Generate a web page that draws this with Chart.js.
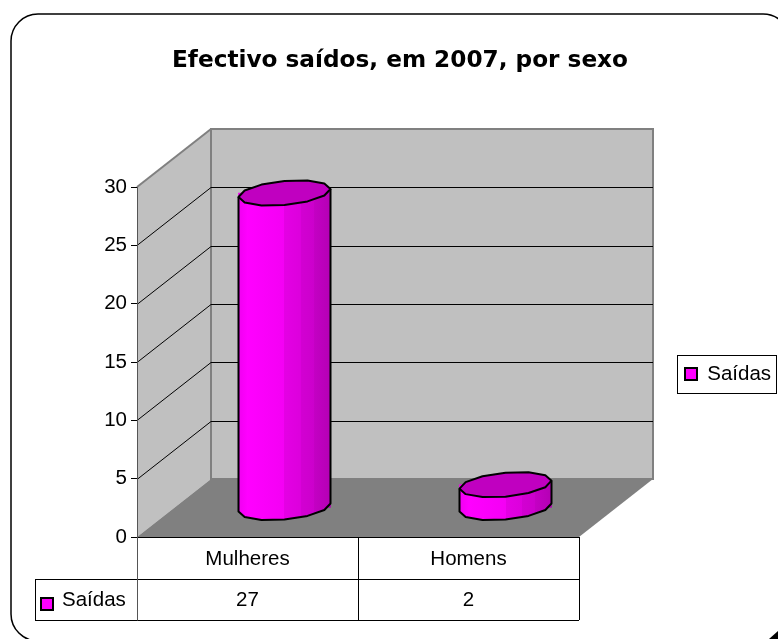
<!DOCTYPE html>
<html><head><meta charset="utf-8">
<style>html,body{margin:0;padding:0;background:#fff}canvas{display:block}</style>
<script src="https://cdn.jsdelivr.net/npm/chart.js@4"></script>
</head><body><canvas id="c" width="778" height="639"></canvas>
<script>
const categories = ['Mulheres', 'Homens'];
const seriesName = 'Saídas';
const saidas = [27, 2];
const yTicks = [0, 5, 10, 15, 20, 25, 30];
const titleText = 'Efectivo saídos, em 2007, por sexo';

const FONT = '"Liberation Sans", Arial, sans-serif';
const DX = 74, DY = -58;
const BAR_W = 92, RY = 12, TILT = 4;
const MAG = '#FF00FF', TOP_COLOR = '#C000C0';

function bodyGradient(ctx2d, cx) {
  const l = cx - BAR_W / 2, g = ctx2d.createLinearGradient(l, 0, l + BAR_W, 0);
  const stops = [[0,'#F000F0'],[0.1,'#FF00FF'],[0.5,'#F400F4'],[0.5,'#E400E4'],[0.68,'#DC00DC'],[0.68,'#D200D2'],[0.82,'#CC00CC'],[0.82,'#C400C4'],[1,'#B400B4']];
  stops.forEach(s => g.addColorStop(s[0], s[1]));
  return g;
}
function ringPoint(cx, cy, t) {
  return [cx + BAR_W / 2 * Math.cos(t), cy - TILT * Math.cos(t) - RY * Math.sin(t)];
}
function poly(ctx, pts) {
  ctx.beginPath();
  pts.forEach((p, i) => i ? ctx.lineTo(p[0], p[1]) : ctx.moveTo(p[0], p[1]));
}

const scene = {
  id: 'scene',
  afterLayout(chart) {
    const lg = chart.legend;
    lg.left = 677; lg.right = 777; lg.top = 355; lg.bottom = 393;
    const tt = chart.titleBlock;
    tt.left = 22; tt.right = 778; tt.width = 756;
  },
  beforeDatasetsDraw(chart) {
    const { ctx, scales: { x, y } } = chart;
    const a = chart.chartArea;
    ctx.save();
    // frame (runs off the right and bottom of the page)
    ctx.strokeStyle = '#000'; ctx.lineWidth = 1.5;
    ctx.beginPath(); ctx.roundRect(11, 14, 779, 627, 27); ctx.stroke();
    ctx.fillStyle = '#000';
    poly(ctx, [[769, 639], [778, 631], [778, 639]]); ctx.closePath(); ctx.fill();
    // walls + floor
    ctx.lineWidth = 2; ctx.strokeStyle = '#808080';
    ctx.fillStyle = '#C0C0C0';
    poly(ctx, [[a.left, a.top], [a.left + DX, a.top + DY], [a.left + DX, a.bottom + DY], [a.left, a.bottom]]);
    ctx.closePath(); ctx.fill();
    ctx.beginPath(); ctx.moveTo(a.left, a.top); ctx.lineTo(a.left + DX, a.top + DY); ctx.stroke();
    ctx.beginPath(); ctx.rect(a.left + DX, a.top + DY, a.right - a.left, a.bottom - a.top); ctx.fill(); ctx.stroke();
    ctx.fillStyle = '#808080';
    poly(ctx, [[a.left, a.bottom], [a.right, a.bottom], [a.right + DX, a.bottom + DY], [a.left + DX, a.bottom + DY]]);
    ctx.closePath(); ctx.fill();
    // gridlines
    ctx.strokeStyle = '#000'; ctx.lineWidth = 1;
    yTicks.forEach(v => {
      if (v === 0 || v === 30) return;
      const py = Math.round(y.getPixelForValue(v)) + 0.5;
      ctx.beginPath(); ctx.moveTo(a.left, py); ctx.lineTo(a.left + DX, py + DY); ctx.lineTo(a.right + DX, py + DY); ctx.stroke();
    });
    // data table
    const rowA = a.bottom + 42, rowB = a.bottom + 83, tblL = 35;
    ctx.beginPath();
    ctx.moveTo(a.left, a.bottom + .5); ctx.lineTo(a.right, a.bottom + .5);
    ctx.moveTo(tblL, rowA + .5); ctx.lineTo(a.right, rowA + .5);
    ctx.moveTo(tblL, rowB + .5); ctx.lineTo(a.right, rowB + .5);
    ctx.moveTo(tblL + .5, rowA); ctx.lineTo(tblL + .5, rowB);
    const mid = (a.left + a.right) / 2;
    ctx.moveTo(mid + .5, a.bottom); ctx.lineTo(mid + .5, rowB);
    ctx.moveTo(a.right + .5, a.bottom); ctx.lineTo(a.right + .5, rowB);
    ctx.stroke();
    ctx.strokeStyle = '#555';
    ctx.beginPath(); ctx.moveTo(a.left + .5, a.top); ctx.lineTo(a.left + .5, rowB + .5); ctx.stroke();
    ctx.fillStyle = '#000'; ctx.font = '20.5px ' + FONT; ctx.textBaseline = 'middle'; ctx.textAlign = 'center';
    saidas.forEach((v, i) => ctx.fillText(String(v), x.getPixelForValue(i), (rowA + rowB) / 2 + 1));
    ctx.textAlign = 'left';
    ctx.fillText(seriesName, 62, (rowA + rowB) / 2 + 1);
    ctx.fillStyle = MAG; ctx.strokeStyle = '#000'; ctx.lineWidth = 2;
    ctx.fillRect(41, 598, 12, 12); ctx.strokeRect(41, 598, 12, 12);
    // legend box
    const lg = chart.legend;
    ctx.strokeStyle = '#000'; ctx.lineWidth = 1;
    ctx.strokeRect(lg.left + .5, lg.top + .5, lg.right - lg.left - 1, lg.bottom - lg.top);
    ctx.restore();
    // bar bodies are drawn by the library, shifted to mid-depth
    ctx.save();
    ctx.translate(DX / 2, DY / 2);
  },
  afterDatasetsDraw(chart) {
    const { ctx } = chart;
    const meta = chart.getDatasetMeta(0);
    ctx.restore();
    ctx.save();
    ctx.lineJoin = 'round';
    meta.data.forEach(bar => {
      const cx = bar.x + DX / 2, topY = bar.y + DY / 2, baseY = bar.base + DY / 2;
      const n = 6, front = [], back = [], topFront = [];
      for (let i = 0; i <= n; i++) {
        front.push(ringPoint(cx, baseY, Math.PI + Math.PI * i / n));
        topFront.push(ringPoint(cx, topY, Math.PI + Math.PI * i / n));
      }
      ctx.fillStyle = bodyGradient(ctx, cx);
      poly(ctx, topFront.concat(front.slice().reverse()));
      ctx.closePath(); ctx.fill();
      ctx.strokeStyle = '#000'; ctx.lineWidth = 2;
      poly(ctx, [topFront[0]].concat(front, [topFront[n]]));
      ctx.stroke();
      for (let i = 0; i < 2 * n; i++) back.push(ringPoint(cx, topY, Math.PI * i / n));
      ctx.fillStyle = TOP_COLOR;
      poly(ctx, back); ctx.closePath(); ctx.fill(); ctx.stroke();
    });
    ctx.restore();
  }
};

new Chart(document.getElementById('c'), {
  type: 'bar',
  data: {
    labels: categories,
    datasets: [{
      label: seriesName,
      data: saidas,
      barThickness: BAR_W,
      borderWidth: 0,
      backgroundColor: c => bodyGradient(c.chart.ctx, (c.chart.scales.x && c.dataIndex !== undefined) ? c.chart.scales.x.getPixelForValue(c.dataIndex) : 0)
    }]
  },
  options: {
    responsive: false,
    animation: false,
    events: [],
    layout: { padding: { left: 0, right: 199, top: 0, bottom: 0 } },
    scales: {
      x: {
        offset: true,
        afterFit: s => { s.height = 102; },
        border: { display: false },
        grid: { display: false },
        ticks: { color: '#000', font: { size: 20.5, family: FONT }, padding: 2, maxRotation: 0 }
      },
      y: {
        min: 0, max: 30,
        afterFit: s => { s.width = 137; },
        border: { display: false },
        afterBuildTicks: s => { s.ticks = yTicks.map(v => ({ value: v })); },
        grid: { drawOnChartArea: false, drawTicks: true, tickLength: 6, color: '#000' },
        ticks: { color: '#000', font: { size: 20.5, family: FONT }, padding: 4 }
      }
    },
    plugins: {
      tooltip: { enabled: false },
      title: {
        display: true,
        text: titleText,
        color: '#000',
        font: { size: 23.2, weight: 'bold', family: '"DejaVu Sans", sans-serif', lineHeight: 1.2 },
        padding: { top: 47, bottom: 112.16 }
      },
      legend: {
        position: 'chartArea',
        align: 'center',
        labels: {
          color: '#000',
          font: { size: 20.5, family: FONT },
          boxWidth: 12, boxHeight: 12, padding: 8,
          generateLabels: () => [{ text: seriesName, fillStyle: MAG, strokeStyle: '#000', lineWidth: 2, datasetIndex: 0 }]
        }
      }
    }
  },
  plugins: [scene]
});
</script></body></html>
